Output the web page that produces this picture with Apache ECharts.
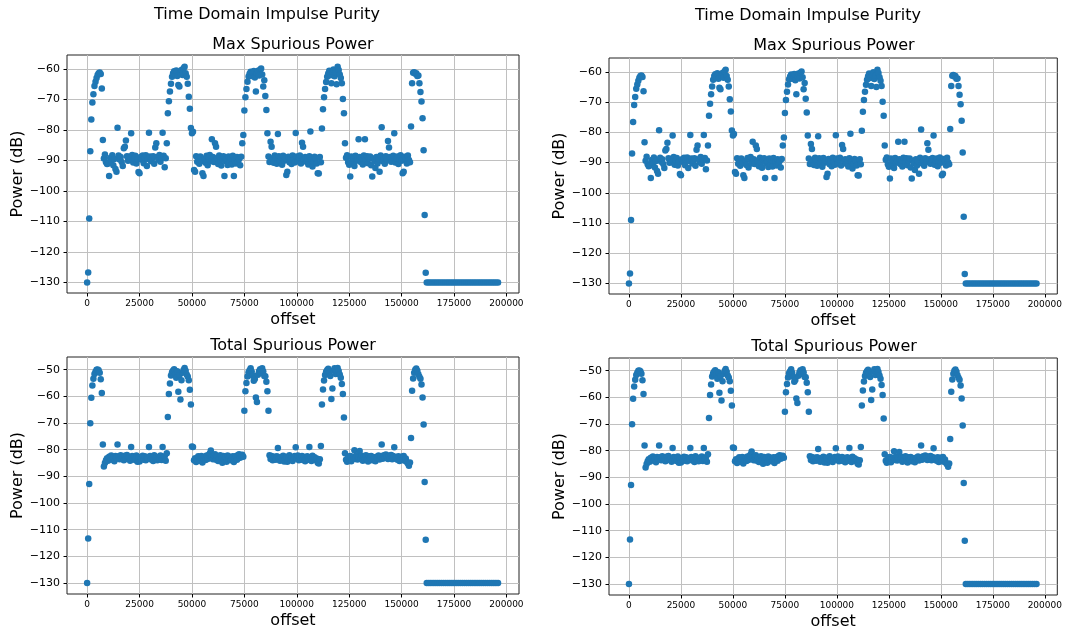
<!DOCTYPE html>
<html>
<head>
<meta charset="utf-8">
<title>Time Domain Impulse Purity</title>
<script src="https://cdn.jsdelivr.net/npm/echarts@6/dist/echarts.min.js"></script>
<style>
  html, body { margin: 0; padding: 0; background: #fff; }
  #chart { width: 1065px; height: 632px; }
</style>
</head>
<body>
<div id="chart"></div>
<script>
// offset of each measurement (shared by both spurious power series)
const offsets = [
  0, 500, 1000, 1500, 2000, 2500, 3000, 3500, 4000, 4500,
  5000, 5500, 6000, 6500, 7000, 7500, 8000, 8500, 9000, 9500,
  10000, 10500, 11000, 11500, 12000, 12500, 13000, 13500, 14000, 14500,
  15000, 15500, 16000, 16500, 17000, 17500, 18000, 18500, 19000, 19500,
  20000, 20500, 21000, 21500, 22000, 22500, 23000, 23500, 24000, 24500,
  25000, 25500, 26000, 26500, 27000, 27500, 28000, 28500, 29000, 29500,
  30000, 30500, 31000, 31500, 32000, 32500, 33000, 33500, 34000, 34500,
  35000, 35500, 36000, 36500, 37000, 37500, 38000, 38500, 39000, 39500,
  40000, 40500, 41000, 41500, 42000, 42500, 43000, 43500, 44000, 44500,
  45000, 45500, 46000, 46500, 47000, 47500, 48000, 48500, 49000, 49500,
  50000, 50500, 51000, 51500, 52000, 52500, 53000, 53500, 54000, 54500,
  55000, 55500, 56000, 56500, 57000, 57500, 58000, 58500, 59000, 59500,
  60000, 60500, 61000, 61500, 62000, 62500, 63000, 63500, 64000, 64500,
  65000, 65500, 66000, 66500, 67000, 67500, 68000, 68500, 69000, 69500,
  70000, 70500, 71000, 71500, 72000, 72500, 73000, 73500, 74000, 74500,
  75000, 75500, 76000, 76500, 77000, 77500, 78000, 78500, 79000, 79500,
  80000, 80500, 81000, 81500, 82000, 82500, 83000, 83500, 84000, 84500,
  85000, 85500, 86000, 86500, 87000, 87500, 88000, 88500, 89000, 89500,
  90000, 90500, 91000, 91500, 92000, 92500, 93000, 93500, 94000, 94500,
  95000, 95500, 96000, 96500, 97000, 97500, 98000, 98500, 99000, 99500,
  100000, 100500, 101000, 101500, 102000, 102500, 103000, 103500, 104000, 104500,
  105000, 105500, 106000, 106500, 107000, 107500, 108000, 108500, 109000, 109500,
  110000, 110500, 111000, 111500, 112000, 112500, 113000, 113500, 114000, 114500,
  115000, 115500, 116000, 116500, 117000, 117500, 118000, 118500, 119000, 119500,
  120000, 120500, 121000, 121500, 122000, 122500, 123000, 123500, 124000, 124500,
  125000, 125500, 126000, 126500, 127000, 127500, 128000, 128500, 129000, 129500,
  130000, 130500, 131000, 131500, 132000, 132500, 133000, 133500, 134000, 134500,
  135000, 135500, 136000, 136500, 137000, 137500, 138000, 138500, 139000, 139500,
  140000, 140500, 141000, 141500, 142000, 142500, 143000, 143500, 144000, 144500,
  145000, 145500, 146000, 146500, 147000, 147500, 148000, 148500, 149000, 149500,
  150000, 150500, 151000, 151500, 152000, 152500, 153000, 153500, 154000, 154500,
  155000, 155500, 156000, 156500, 157000, 157500, 158000, 158500, 159000, 159500,
  160000, 160500, 161000, 161500,
  162000, 163000, 164000, 165000, 166000, 167000, 168000, 169000, 170000, 171000,
  172000, 173000, 174000, 175000, 176000, 177000, 178000, 179000, 180000, 181000,
  182000, 183000, 184000, 185000, 186000, 187000, 188000, 189000, 190000, 191000,
  192000, 193000, 194000, 195000, 196000
];

// Max Spurious Power (dB)
const maxSpur = [
  -130, -126.7, -109, -87, -76.6, -71, -68.3, -65.6, -64.2, -63,
  -62, -61.4, -61.2, -61.7, -66.4, -83.3, -89.4, -88.1, -90.6, -91.2,
  -91.0, -95.1, -89.2, -90.2, -88.3, -91.6, -89.5, -92.8, -93.7, -79.3,
  -88.4, -89.7, -88.9, -90.5, -91.8, -86.0, -85.5, -83.5, -88.6, -90.1,
  -88.8, -89.9, -81.1, -88.2, -90.7, -89.3, -88.5, -91.0, -89.6, -93.8,
  -94.2, -88.9, -89.8, -88.4, -90.9, -89.1, -88.3, -91.8, -89.5, -80.9,
  -88.7, -90.3, -89.4, -88.6, -91.1, -85.8, -84.4, -88.9, -89.8, -88.2,
  -90.4, -89.1, -80.9, -88.5, -92.2, -89.3, -84.4, -74.5, -70.6, -67.4,
  -64.9, -62.6, -61.4, -60.8, -61.9, -60.5, -62.3, -65.3, -65.8, -61.2,
  -60.4, -62.0, -59.8, -59.3, -61.4, -62.6, -64.9, -69.1, -73.1, -79.4,
  -81.1, -80.6, -93.1, -93.7, -88.6, -90.4, -89.2, -91.1, -88.7, -90.2,
  -94.2, -95.1, -89.4, -90.8, -88.5, -91.6, -89.0, -88.2, -90.3, -83.1,
  -88.9, -90.5, -84.4, -85.5, -89.3, -91.2, -88.4, -90.0, -91.7, -89.1,
  -88.6, -95.1, -90.2, -89.4, -91.5, -88.7, -90.6, -89.2, -91.3, -88.5,
  -95.1, -89.8, -91.0, -88.9, -90.4, -89.5, -91.6, -88.8, -84.4, -81.7,
  -73.6, -69.3, -66.6, -64.2, -62.5, -61.6, -60.9, -62.3, -61.2, -60.7,
  -62.8, -67.4, -61.5, -60.6, -62.2, -60.3, -59.9, -61.8, -65.8, -63.7,
  -68.9, -73.5, -81.1, -88.7, -90.5, -83.9, -85.5, -89.3, -90.8, -88.4,
  -89.2, -91.1, -81.3, -88.6, -90.2, -89.0, -91.4, -88.5, -90.1, -89.3,
  -94.8, -93.7, -88.8, -90.6, -89.5, -91.2, -88.4, -89.9, -90.7, -81.0,
  -88.7, -90.3, -89.1, -88.4, -91.0, -84.2, -85.5, -89.6, -88.9, -90.4,
  -89.2, -91.3, -88.6, -80.5, -89.7, -92.0, -90.5, -88.8, -89.4, -91.0,
  -94.2, -94.3, -88.9, -90.6, -79.5, -73.2, -69.3, -66.6, -64.3, -62.6,
  -61.5, -60.6, -62.1, -64.7, -61.0, -60.2, -62.4, -61.3, -65.0, -59.3,
  -60.4, -61.8, -63.0, -64.7, -69.9, -74.5, -84.4, -89.1, -88.3, -90.6,
  -91.4, -95.3, -88.7, -90.2, -89.4, -91.8, -88.5, -90.1, -89.6, -83.1,
  -88.9, -90.5, -89.2, -91.3, -88.4, -83.1, -89.8, -88.6, -90.9, -89.3,
  -88.7, -91.6, -95.3, -89.4, -90.2, -92.5, -88.9, -91.0, -89.5, -93.7,
  -88.4, -79.1, -90.3, -89.2, -91.1, -88.6, -89.8, -83.6, -85.8, -88.9,
  -90.4, -89.1, -88.5, -81.1, -90.7, -89.3, -88.7, -91.2, -89.6, -88.3,
  -90.1, -94.2, -93.7, -88.8, -89.5, -91.0, -88.4, -89.9, -90.6, -78.9,
  -64.7, -61.3, -61.1, -61.6, -61.4, -62.3, -62.2, -64.7, -67.6, -70.7,
  -76.2, -86.7, -107.9, -126.8,
  -130, -130, -130, -130, -130, -130, -130, -130, -130, -130,
  -130, -130, -130, -130, -130, -130, -130, -130, -130, -130,
  -130, -130, -130, -130, -130, -130, -130, -130, -130, -130,
  -130, -130, -130, -130, -130
];

// Total Spurious Power (dB)
const totalSpur = [
  -130, -113.3, -92.9, -70.1, -60.5, -55.9, -53.4, -51.6, -50.8, -50.0,
  -49.9, -50.2, -51.2, -53.6, -58.7, -78.1, -86.3, -85.0, -84.0, -83.2,
  -84.1, -82.6, -83.4, -82.2, -83.8, -82.9, -84.3, -82.4, -83.1, -78.1,
  -82.5, -83.6, -82.1, -83.3, -82.7, -84.0, -82.3, -83.5, -82.0, -83.2,
  -82.8, -84.1, -79.0, -82.4, -83.6, -82.6, -83.9, -82.2, -84.5, -83.0,
  -84.4, -82.7, -83.5, -82.3, -83.8, -82.5, -84.0, -82.9, -83.3, -79.0,
  -82.4, -83.7, -82.8, -84.2, -82.1, -83.4, -82.6, -84.0, -82.9, -83.5,
  -82.2, -83.9, -79.0, -83.1, -82.5, -84.1, -81.3, -67.7, -59.1, -55.2,
  -52.2, -51.0, -50.3, -49.8, -51.5, -53.0, -50.6, -58.3, -52.1, -61.2,
  -54.0, -51.2, -50.1, -49.4, -50.4, -51.8, -52.6, -54.0, -57.5, -63.1,
  -78.8, -79.0, -84.0, -83.2, -84.6, -83.7, -82.5, -84.1, -83.0, -82.4,
  -84.8, -83.3, -82.6, -83.9, -82.2, -83.5, -82.0, -81.4, -80.3, -82.7,
  -83.6, -82.3, -81.7, -83.8, -82.5, -84.2, -83.0, -82.1, -83.6, -84.9,
  -82.4, -83.7, -82.8, -84.5, -82.2, -83.4, -82.6, -84.0, -83.1, -82.5,
  -84.6, -83.2, -82.4, -83.8, -82.0, -81.7, -83.0, -82.2, -81.9, -82.6,
  -65.4, -58.1, -55.0, -52.6, -51.0, -50.2, -49.5, -50.8, -52.3, -54.2,
  -53.5, -60.4, -62.1, -51.9, -50.6, -49.8, -51.2, -49.5, -50.7, -52.4,
  -52.5, -54.5, -58.1, -65.4, -82.1, -83.5, -82.4, -84.0, -83.1, -82.6,
  -83.8, -82.5, -79.4, -83.2, -84.1, -82.7, -83.5, -82.3, -84.4, -83.0,
  -82.6, -84.5, -83.3, -82.1, -83.7, -82.9, -84.2, -83.1, -82.4, -79.1,
  -83.4, -82.2, -84.0, -82.8, -83.6, -82.4, -83.9, -82.7, -84.3, -83.0,
  -82.5, -83.8, -79.0, -82.9, -84.2, -82.3, -83.5, -82.8, -84.0, -83.3,
  -84.9, -85.2, -83.6, -78.6, -63.1, -57.4, -54.1, -52.0, -50.8, -50.1,
  -49.7, -50.9, -52.4, -61.0, -57.1, -50.3, -49.5, -51.6, -50.2, -49.4,
  -50.5, -51.8, -53.0, -55.4, -59.1, -67.9, -81.3, -83.8, -84.5, -82.6,
  -83.9, -82.4, -84.3, -83.1, -82.6, -80.2, -83.5, -82.2, -83.7, -82.8,
  -80.5, -83.4, -82.3, -84.1, -82.7, -83.6, -82.1, -83.9, -84.4, -82.5,
  -83.2, -82.4, -84.0, -83.5, -82.8, -84.3, -82.6, -83.1, -82.2, -83.7,
  -82.5, -78.1, -83.4, -82.1, -83.0, -81.8, -82.6, -83.5, -82.3, -83.2,
  -82.0, -83.6, -82.4, -79.1, -83.3, -82.7, -83.8, -82.5, -84.2, -83.1,
  -82.6, -83.9, -82.4, -84.1, -83.3, -84.6, -85.2, -86.0, -84.8, -75.6,
  -57.9, -53.3, -51.2, -50.0, -49.6, -50.4, -51.7, -52.7, -53.4, -55.6,
  -60.4, -70.6, -92.1, -113.8,
  -130, -130, -130, -130, -130, -130, -130, -130, -130, -130,
  -130, -130, -130, -130, -130, -130, -130, -130, -130, -130,
  -130, -130, -130, -130, -130, -130, -130, -130, -130, -130,
  -130, -130, -130, -130, -130
];

// tick labels
const xTicks = [0, 25000, 50000, 75000, 100000, 125000, 150000, 175000, 200000];
const maxTicks = [-130, -120, -110, -100, -90, -80, -70, -60];
const totalTicks = [-130, -120, -110, -100, -90, -80, -70, -60, -50];

const FONT = 'DejaVu Sans';
const BLUE = '#1f77b4';

// two identical figures side by side, two subplots each
const panels = [
  { left: 67, top: 55, width: 452, height: 238, yMin: -133.45, yMax: -55.45, ticks: maxTicks, values: maxSpur, title: 'Max Spurious Power', tx: 293, ty: 44.5 },
  { left: 67, top: 357, width: 452, height: 237, yMin: -134.1, yMax: -45.25, ticks: totalTicks, values: totalSpur, title: 'Total Spurious Power', tx: 293, ty: 346 },
  { left: 609, top: 58, width: 451, height: 236, yMin: -133.45, yMax: -55.45, ticks: maxTicks, values: maxSpur, title: 'Max Spurious Power', tx: 834, ty: 46 },
  { left: 609, top: 358, width: 451, height: 237, yMin: -134.1, yMax: -45.25, ticks: totalTicks, values: totalSpur, title: 'Total Spurious Power', tx: 834, ty: 346.5 }
];

const minus = v => String(v).replace('-', '\u2212');

const chart = echarts.init(document.getElementById('chart'));

const option = {
  animation: false,
  backgroundColor: '#fff',
  textStyle: { fontFamily: FONT },
  graphic: [
    { type: 'text', x: 267, y: 14.5, style: { text: 'Time Domain Impulse Purity', font: '16px "DejaVu Sans"', fill: '#000', textAlign: 'center', textVerticalAlign: 'middle' } },
    { type: 'text', x: 808, y: 16, style: { text: 'Time Domain Impulse Purity', font: '16px "DejaVu Sans"', fill: '#000', textAlign: 'center', textVerticalAlign: 'middle' } }
  ].concat(panels.map(p => ({
    type: 'text', x: p.tx, y: p.ty,
    style: { text: p.title, font: '16px "DejaVu Sans"', fill: '#000', textAlign: 'center', textVerticalAlign: 'middle' }
  }))),
  grid: panels.map(p => ({
    left: p.left, top: p.top, width: p.width, height: p.height,
    show: true, borderColor: '#222', borderWidth: 1, backgroundColor: 'transparent'
  })),
  xAxis: panels.map((p, i) => ({
    gridIndex: i,
    type: 'value',
    min: -9600,
    max: 206000,
    name: 'offset',
    nameLocation: 'middle',
    nameGap: 19,
    nameTextStyle: { fontSize: 16, color: '#000', fontFamily: FONT },
    axisLine: { show: false, onZero: false },
    axisTick: { show: true, length: 3.5, customValues: xTicks, lineStyle: { color: '#000' } },
    axisLabel: { customValues: xTicks, fontSize: 9, color: '#000', margin: 6, fontFamily: FONT, formatter: v => String(v) },
    splitLine: { show: true, lineStyle: { color: '#c0c0c0', width: 1 } }
  })),
  yAxis: panels.map((p, i) => ({
    gridIndex: i,
    type: 'value',
    min: p.yMin,
    max: p.yMax,
    name: 'Power (dB)',
    nameLocation: 'middle',
    nameRotate: 90,
    nameGap: 41,
    nameTextStyle: { fontSize: 16, color: '#000', fontFamily: FONT },
    axisLine: { show: false, onZero: false },
    axisTick: { show: true, length: 3.5, customValues: p.ticks, lineStyle: { color: '#000' } },
    axisLabel: { customValues: p.ticks, fontSize: 11, color: '#000', margin: 7, fontFamily: FONT, formatter: minus },
    splitLine: { show: true, lineStyle: { color: '#c0c0c0', width: 1 } }
  })),
  series: panels.map((p, i) => ({
    type: 'scatter',
    xAxisIndex: i,
    yAxisIndex: i,
    symbolSize: 6.5,
    itemStyle: { color: BLUE, opacity: 1 },
    silent: true,
    data: offsets.map((x, k) => [x, p.values[k]])
  }))
};

chart.setOption(option);
</script>
</body>
</html>
